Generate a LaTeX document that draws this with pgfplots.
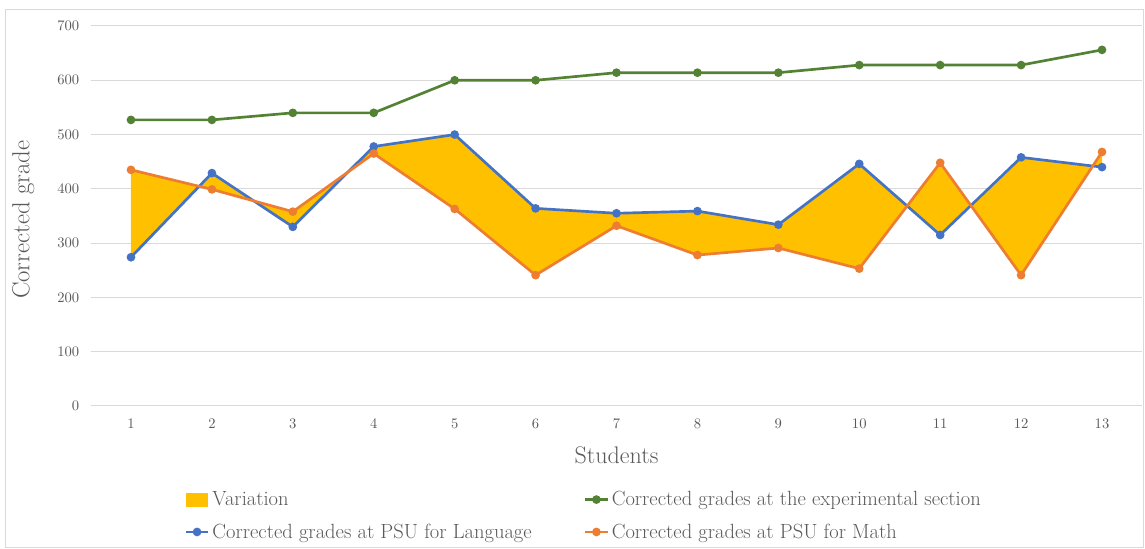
\documentclass[border=0pt]{standalone}
\usepackage{pgfplots}
\usepackage{pgfplotstable}
\pgfplotsset{compat=1.18}
\usepgfplotslibrary{fillbetween}
\definecolor{cblue}{HTML}{4472C4}
\definecolor{corange}{HTML}{ED7D31}
\definecolor{cgreen}{HTML}{548235}
\definecolor{cgold}{HTML}{FFC000}
\definecolor{cgrid}{HTML}{D9D9D9}
\definecolor{ctext}{HTML}{595959}

\pgfplotstableread{
s  exp  lang  math
1  527  274   435
2  527  429   399
3  540  330   358
4  540  478   465
5  600  500   363
6  600  364   241
7  614  355   332
8  614  359   278
9  614  334   291
10 628  446   253
11 628  315   448
12 628  458   241
13 656  440   468
}\data

\begin{document}
\begin{tikzpicture}
\draw[cgrid, line width=0.75pt] (-63.4pt,-106.5pt) rectangle (790.1pt,297pt);
\begin{axis}[
  at={(0,0)}, anchor=south west,
  width=789pt, height=285pt, scale only axis,
  xmin=0.5, xmax=13.5, ymin=0, ymax=700,
  xtick={1,...,13}, ytick={0,100,...,700},
  ymajorgrids, major grid style={cgrid, line width=0.75pt},
  axis line style={draw=none},
  major tick length=0pt,
  tick label style={font=\fontsize{11}{13}\selectfont, text=ctext},
  yticklabel style={xshift=-5pt},
  xticklabel style={yshift=-6pt},
  ylabel={Corrected grade},
  ylabel style={at={(rel axis cs:-0.064,0.49)}, anchor=center, font=\fontsize{18.5}{22}\selectfont, text=ctext},
  xlabel={Students},
  xlabel style={at={(rel axis cs:0.5,-0.129)}, anchor=center, font=\fontsize{18}{21}\selectfont, text=ctext},
  legend columns=2,
  legend cell align=left,
  legend style={at={(0.469,-0.289)}, anchor=center, draw=none, fill=none,
    font=\fontsize{15.4}{18}\selectfont, text=ctext,
    /tikz/every even column/.append style={column sep=37pt},
    /tikz/row sep=8pt},
]
\addplot[name path=lang, draw=none, forget plot] table[x=s,y=lang] {\data};
\addplot[name path=math, draw=none, forget plot] table[x=s,y=math] {\data};
\addplot[fill=cgold, draw=none, legend image code/.code={\fill[cgold] (0pt,-5.25pt) rectangle (16.5pt,5.25pt);}] fill between[of=lang and math];
\addplot[cgreen, line width=2pt, mark=*, mark size=2.2pt] table[x=s,y=exp] {\data};
\addplot[cblue, line width=2pt, mark=*, mark size=2.2pt] table[x=s,y=lang] {\data};
\addplot[corange, line width=2pt, mark=*, mark size=2.2pt] table[x=s,y=math] {\data};
\legend{Variation, Corrected grades at the experimental section, Corrected grades at PSU for Language, Corrected grades at PSU for Math}
\end{axis}
\path (-67.9pt,-107.25pt) (790.9pt,304.5pt);
\end{tikzpicture}
\end{document}
